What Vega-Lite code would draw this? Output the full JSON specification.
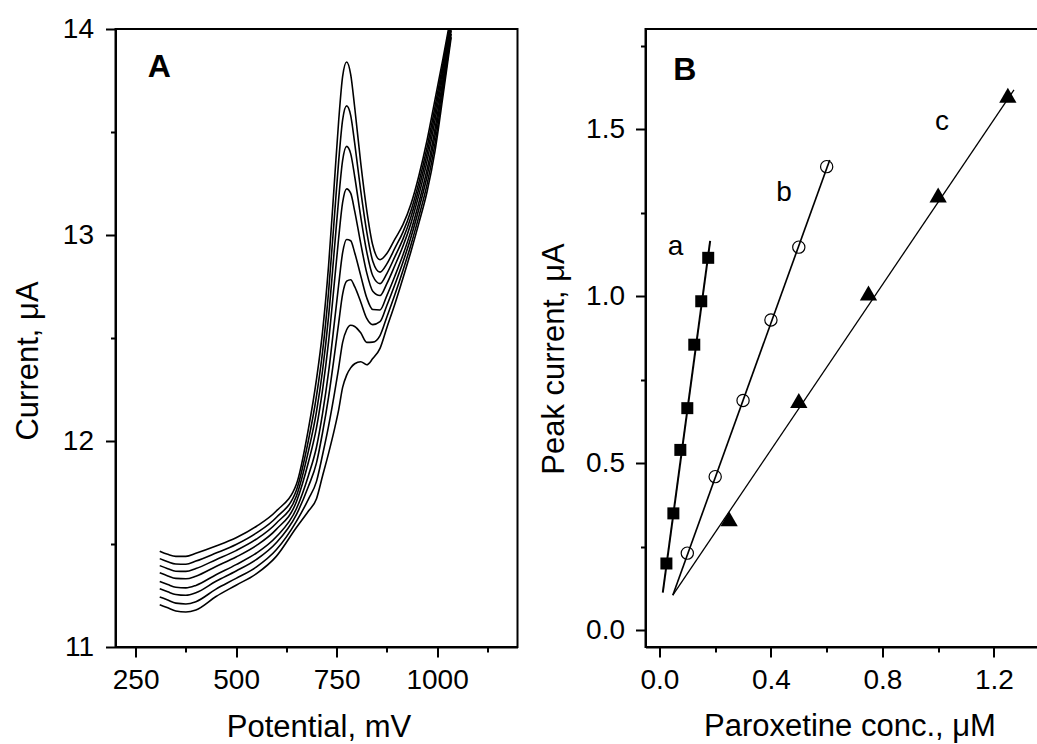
{
 "$schema": "https://vega.github.io/schema/vega-lite/v6.json",
 "padding": {"left": 11.5, "top": 14, "right": 0, "bottom": 0},
 "background": "white",
 "bounds": "flush",
 "spacing": 128,
 "config": {
  "font": "Liberation Sans",
  "view": {"stroke": "black", "strokeWidth": 2},
  "axis": {"grid": false, "domainColor": "black", "domainWidth": 2, "tickColor": "black", "tickWidth": 2, "labelColor": "black", "titleColor": "black", "labelFont": "Liberation Sans", "titleFont": "Liberation Sans", "labelFontSize": 28, "titleFontSize": 31, "titleFontWeight": "normal", "labelFlush": false, "labelOverlap": false, "labelBound": false}
 },
 "datasets": {
  "curves": [
{"c":1,"x":310,"y":11.465},{"c":2,"x":310,"y":11.429},{"c":3,"x":310,"y":11.395},{"c":4,"x":310,"y":11.36},{"c":5,"x":310,"y":11.318},{"c":6,"x":310,"y":11.283},{"c":7,"x":310,"y":11.243},{"c":8,"x":310,"y":11.205},
{"c":1,"x":330,"y":11.45},{"c":2,"x":330,"y":11.414},{"c":3,"x":330,"y":11.38},{"c":4,"x":330,"y":11.345},{"c":5,"x":330,"y":11.303},{"c":6,"x":330,"y":11.268},{"c":7,"x":330,"y":11.228},{"c":8,"x":330,"y":11.19},
{"c":1,"x":350,"y":11.44},{"c":2,"x":350,"y":11.403},{"c":3,"x":350,"y":11.368},{"c":4,"x":350,"y":11.333},{"c":5,"x":350,"y":11.29},{"c":6,"x":350,"y":11.255},{"c":7,"x":350,"y":11.213},{"c":8,"x":350,"y":11.175},
{"c":1,"x":375,"y":11.44},{"c":2,"x":375,"y":11.402},{"c":3,"x":375,"y":11.367},{"c":4,"x":375,"y":11.331},{"c":5,"x":375,"y":11.287},{"c":6,"x":375,"y":11.251},{"c":7,"x":375,"y":11.209},{"c":8,"x":375,"y":11.17},
{"c":1,"x":400,"y":11.455},{"c":2,"x":400,"y":11.417},{"c":3,"x":400,"y":11.381},{"c":4,"x":400,"y":11.344},{"c":5,"x":400,"y":11.299},{"c":6,"x":400,"y":11.263},{"c":7,"x":400,"y":11.22},{"c":8,"x":400,"y":11.18},
{"c":1,"x":450,"y":11.49},{"c":2,"x":450,"y":11.456},{"c":3,"x":450,"y":11.424},{"c":4,"x":450,"y":11.391},{"c":5,"x":450,"y":11.351},{"c":6,"x":450,"y":11.319},{"c":7,"x":450,"y":11.281},{"c":8,"x":450,"y":11.245},
{"c":1,"x":500,"y":11.53},{"c":2,"x":500,"y":11.498},{"c":3,"x":500,"y":11.468},{"c":4,"x":500,"y":11.437},{"c":5,"x":500,"y":11.4},{"c":6,"x":500,"y":11.369},{"c":7,"x":500,"y":11.333},{"c":8,"x":500,"y":11.3},
{"c":1,"x":550,"y":11.585},{"c":2,"x":550,"y":11.553},{"c":3,"x":550,"y":11.523},{"c":4,"x":550,"y":11.492},{"c":5,"x":550,"y":11.455},{"c":6,"x":550,"y":11.424},{"c":7,"x":550,"y":11.388},{"c":8,"x":550,"y":11.355},
{"c":1,"x":600,"y":11.66},{"c":2,"x":600,"y":11.629},{"c":3,"x":600,"y":11.601},{"c":4,"x":600,"y":11.571},{"c":5,"x":600,"y":11.535},{"c":6,"x":600,"y":11.506},{"c":7,"x":600,"y":11.472},{"c":8,"x":600,"y":11.44},
{"c":1,"x":650,"y":11.79},{"c":2,"x":650,"y":11.761},{"c":3,"x":650,"y":11.733},{"c":4,"x":650,"y":11.705},{"c":5,"x":650,"y":11.671},{"c":6,"x":650,"y":11.643},{"c":7,"x":650,"y":11.61},{"c":8,"x":650,"y":11.58},
{"c":1,"x":680,"y":12.06},{"c":2,"x":680,"y":12.004},{"c":3,"x":680,"y":11.952},{"c":4,"x":680,"y":11.898},{"c":5,"x":680,"y":11.833},{"c":6,"x":680,"y":11.78},{"c":7,"x":680,"y":11.718},{"c":8,"x":680,"y":11.66},
{"c":1,"x":700,"y":12.3},{"c":2,"x":700,"y":12.219},{"c":3,"x":700,"y":12.143},{"c":4,"x":700,"y":12.065},{"c":5,"x":700,"y":11.971},{"c":6,"x":700,"y":11.894},{"c":7,"x":700,"y":11.804},{"c":8,"x":700,"y":11.72},
{"c":1,"x":715,"y":12.53},{"c":2,"x":715,"y":12.432},{"c":3,"x":715,"y":12.341},{"c":4,"x":715,"y":12.247},{"c":5,"x":715,"y":12.133},{"c":6,"x":715,"y":12.04},{"c":7,"x":715,"y":11.932},{"c":8,"x":715,"y":11.83},
{"c":1,"x":730,"y":12.85},{"c":2,"x":730,"y":12.723},{"c":3,"x":730,"y":12.604},{"c":4,"x":730,"y":12.481},{"c":5,"x":730,"y":12.334},{"c":6,"x":730,"y":12.213},{"c":7,"x":730,"y":12.072},{"c":8,"x":730,"y":11.94},
{"c":1,"x":745,"y":13.27},{"c":2,"x":745,"y":13.101},{"c":3,"x":745,"y":12.943},{"c":4,"x":745,"y":12.78},{"c":5,"x":745,"y":12.584},{"c":6,"x":745,"y":12.423},{"c":7,"x":745,"y":12.235},{"c":8,"x":745,"y":12.06},
{"c":1,"x":755,"y":13.55},{"c":2,"x":755,"y":13.354},{"c":3,"x":755,"y":13.172},{"c":4,"x":755,"y":12.983},{"c":5,"x":755,"y":12.756},{"c":6,"x":755,"y":12.57},{"c":7,"x":755,"y":12.353},{"c":8,"x":755,"y":12.15},
{"c":1,"x":765,"y":13.77},{"c":2,"x":765,"y":13.559},{"c":3,"x":765,"y":13.362},{"c":4,"x":765,"y":13.158},{"c":5,"x":765,"y":12.914},{"c":6,"x":765,"y":12.713},{"c":7,"x":765,"y":12.479},{"c":8,"x":765,"y":12.26},
{"c":1,"x":775,"y":13.84},{"c":2,"x":775,"y":13.627},{"c":3,"x":775,"y":13.43},{"c":4,"x":775,"y":13.224},{"c":5,"x":775,"y":12.978},{"c":6,"x":775,"y":12.776},{"c":7,"x":775,"y":12.54},{"c":8,"x":775,"y":12.32},
{"c":1,"x":785,"y":13.78},{"c":2,"x":785,"y":13.581},{"c":3,"x":785,"y":13.395},{"c":4,"x":785,"y":13.203},{"c":5,"x":785,"y":12.972},{"c":6,"x":785,"y":12.783},{"c":7,"x":785,"y":12.562},{"c":8,"x":785,"y":12.355},
{"c":1,"x":795,"y":13.62},{"c":2,"x":795,"y":13.446},{"c":3,"x":795,"y":13.284},{"c":4,"x":795,"y":13.116},{"c":5,"x":795,"y":12.914},{"c":6,"x":795,"y":12.749},{"c":7,"x":795,"y":12.556},{"c":8,"x":795,"y":12.375},
{"c":1,"x":810,"y":13.35},{"c":2,"x":810,"y":13.215},{"c":3,"x":810,"y":13.089},{"c":4,"x":810,"y":12.959},{"c":5,"x":810,"y":12.803},{"c":6,"x":810,"y":12.675},{"c":7,"x":810,"y":12.525},{"c":8,"x":810,"y":12.385},
{"c":1,"x":825,"y":13.12},{"c":2,"x":825,"y":13.015},{"c":3,"x":825,"y":12.918},{"c":4,"x":825,"y":12.816},{"c":5,"x":825,"y":12.695},{"c":6,"x":825,"y":12.595},{"c":7,"x":825,"y":12.479},{"c":8,"x":825,"y":12.37},
{"c":1,"x":840,"y":12.95},{"c":2,"x":840,"y":12.873},{"c":3,"x":840,"y":12.802},{"c":4,"x":840,"y":12.727},{"c":5,"x":840,"y":12.638},{"c":6,"x":840,"y":12.565},{"c":7,"x":840,"y":12.48},{"c":8,"x":840,"y":12.4},
{"c":1,"x":858,"y":12.88},{"c":2,"x":858,"y":12.82},{"c":3,"x":858,"y":12.764},{"c":4,"x":858,"y":12.706},{"c":5,"x":858,"y":12.636},{"c":6,"x":858,"y":12.579},{"c":7,"x":858,"y":12.512},{"c":8,"x":858,"y":12.45},
{"c":1,"x":875,"y":12.91},{"c":2,"x":875,"y":12.86},{"c":3,"x":875,"y":12.813},{"c":4,"x":875,"y":12.764},{"c":5,"x":875,"y":12.706},{"c":6,"x":875,"y":12.658},{"c":7,"x":875,"y":12.602},{"c":8,"x":875,"y":12.55},
{"c":1,"x":895,"y":12.98},{"c":2,"x":895,"y":12.936},{"c":3,"x":895,"y":12.895},{"c":4,"x":895,"y":12.852},{"c":5,"x":895,"y":12.801},{"c":6,"x":895,"y":12.76},{"c":7,"x":895,"y":12.711},{"c":8,"x":895,"y":12.665},
{"c":1,"x":915,"y":13.05},{"c":2,"x":915,"y":13.014},{"c":3,"x":915,"y":12.98},{"c":4,"x":915,"y":12.945},{"c":5,"x":915,"y":12.903},{"c":6,"x":915,"y":12.868},{"c":7,"x":915,"y":12.828},{"c":8,"x":915,"y":12.79},
{"c":1,"x":935,"y":13.15},{"c":2,"x":935,"y":13.118},{"c":3,"x":935,"y":13.088},{"c":4,"x":935,"y":13.057},{"c":5,"x":935,"y":13.02},{"c":6,"x":935,"y":12.989},{"c":7,"x":935,"y":12.953},{"c":8,"x":935,"y":12.92},
{"c":1,"x":955,"y":13.29},{"c":2,"x":955,"y":13.258},{"c":3,"x":955,"y":13.228},{"c":4,"x":955,"y":13.197},{"c":5,"x":955,"y":13.16},{"c":6,"x":955,"y":13.129},{"c":7,"x":955,"y":13.093},{"c":8,"x":955,"y":13.06},
{"c":1,"x":975,"y":13.46},{"c":2,"x":975,"y":13.425},{"c":3,"x":975,"y":13.393},{"c":4,"x":975,"y":13.359},{"c":5,"x":975,"y":13.318},{"c":6,"x":975,"y":13.285},{"c":7,"x":975,"y":13.246},{"c":8,"x":975,"y":13.21},
{"c":1,"x":995,"y":13.66},{"c":2,"x":995,"y":13.625},{"c":3,"x":995,"y":13.593},{"c":4,"x":995,"y":13.559},{"c":5,"x":995,"y":13.518},{"c":6,"x":995,"y":13.485},{"c":7,"x":995,"y":13.446},{"c":8,"x":995,"y":13.41},
{"c":1,"x":1015,"y":13.86},{"c":2,"x":1015,"y":13.835},{"c":3,"x":1015,"y":13.811},{"c":4,"x":1015,"y":13.787},{"c":5,"x":1015,"y":13.758},{"c":6,"x":1015,"y":13.734},{"c":7,"x":1015,"y":13.706},{"c":8,"x":1015,"y":13.68},
{"c":1,"x":1035,"y":14.07},{"c":2,"x":1035,"y":14.055},{"c":3,"x":1035,"y":14.04},{"c":4,"x":1035,"y":14.025},{"c":5,"x":1035,"y":14.008},{"c":6,"x":1035,"y":13.993},{"c":7,"x":1035,"y":13.976},{"c":8,"x":1035,"y":13.96}
  ],
  "sq": [{"x":0.025,"y":0.2},{"x":0.05,"y":0.35},{"x":0.075,"y":0.54},{"x":0.1,"y":0.665},{"x":0.125,"y":0.855},{"x":0.15,"y":0.985},{"x":0.175,"y":1.115}],
  "ci": [{"x":0.1,"y":0.231},{"x":0.2,"y":0.46},{"x":0.3,"y":0.688},{"x":0.4,"y":0.929},{"x":0.5,"y":1.147},{"x":0.6,"y":1.388}],
  "tr": [{"x":0.25,"y":0.334},{"x":0.5,"y":0.688},{"x":0.75,"y":1.01},{"x":1.0,"y":1.303},{"x":1.25,"y":1.602}],
  "fits": [{"s":"a","x":0.012,"y":0.113},{"s":"a","x":0.182,"y":1.166},{"s":"b","x":0.048,"y":0.105},{"s":"b","x":0.611,"y":1.408},{"s":"c","x":0.048,"y":0.105},{"s":"c","x":1.272,"y":1.618}],
  "labs": [{"x":0.0575,"y":1.123,"t":"a"},{"x":0.447,"y":1.286,"t":"b"},{"x":1.014,"y":1.499,"t":"c"}]
 },
 "hconcat": [
  {
   "width": 402, "height": 618,
   "layer": [
    {
     "data": {"name": "curves"},
     "mark": {"type": "line", "color": "black", "strokeWidth": 1.6, "interpolate": "monotone", "clip": true},
     "encoding": {
      "x": {"field": "x", "type": "quantitative", "scale": {"domain": [200, 1200], "nice": false, "zero": false},
       "axis": {"title": "Potential, mV", "values": [250, 375, 500, 625, 750, 875, 1000, 1125], "labelExpr": "datum.value % 250 === 0 ? format(datum.value, 'd') : ''", "tickSize": {"condition": {"test": "datum.value % 250 === 0", "value": 10}, "value": 5}, "labelPadding": 9.5, "titleX": 203, "titleY": 89, "titleBaseline": "alphabetic"}},
      "y": {"field": "y", "type": "quantitative", "scale": {"domain": [11, 14], "nice": false, "zero": false},
       "axis": {"title": "Current, μA", "values": [11, 11.5, 12, 12.5, 13, 13.5, 14], "labelExpr": "datum.value % 1 === 0 ? format(datum.value, 'd') : ''", "tickSize": {"condition": {"test": "datum.value % 1 === 0", "value": 10}, "value": 5}, "labelPadding": 12, "titleX": -78, "titleY": 331.5, "titleBaseline": "alphabetic"}},
      "detail": {"field": "c", "type": "nominal"}
     }
    },
    {
     "data": {"values": [{"x": 280.3, "y": 13.766, "t": "A"}]},
     "mark": {"type": "text", "align": "left", "baseline": "alphabetic", "fontSize": 32, "fontWeight": "bold", "font": "Liberation Sans", "color": "black"},
     "encoding": {"x": {"field": "x", "type": "quantitative"}, "y": {"field": "y", "type": "quantitative"}, "text": {"field": "t"}}
    }
   ]
  },
  {
   "width": 393, "height": 618,
   "layer": [
    {
     "data": {"name": "fits"},
     "mark": {"type": "line", "color": "black"},
     "encoding": {
      "x": {"field": "x", "type": "quantitative", "scale": {"domain": [-0.05, 1.36], "nice": false, "zero": false},
       "axis": {"title": "Paroxetine conc., μM", "values": [0, 0.2, 0.4, 0.6, 0.8, 1, 1.2], "labelExpr": "indexof([0, 0.4, 0.8, 1.2], datum.value) >= 0 ? format(datum.value, '.1f') : ''", "tickSize": {"condition": {"test": "indexof([0, 0.4, 0.8, 1.2], datum.value) >= 0", "value": 10}, "value": 5}, "labelPadding": 9.5, "titleX": 204, "titleY": 88.5, "titleBaseline": "alphabetic"}},
      "y": {"field": "y", "type": "quantitative", "scale": {"domain": [-0.05, 1.8], "nice": false, "zero": false},
       "axis": {"title": "Peak current, μA", "values": [0, 0.25, 0.5, 0.75, 1, 1.25, 1.5, 1.75], "labelExpr": "indexof([0, 0.5, 1, 1.5], datum.value) >= 0 ? format(datum.value, '.1f') : ''", "tickSize": {"condition": {"test": "indexof([0, 0.5, 1, 1.5], datum.value) >= 0", "value": 10}, "value": 5}, "labelPadding": 11, "titleX": -82, "titleY": 329.5, "titleBaseline": "alphabetic"}},
      "detail": {"field": "s", "type": "nominal"},
      "strokeWidth": {"field": "s", "type": "nominal", "scale": {"domain": ["a", "b", "c"], "range": [2, 1.3, 1.3]}, "legend": null}
     }
    },
    {
     "data": {"name": "sq"},
     "mark": {"type": "point", "shape": "square", "filled": true, "color": "black", "size": 144, "opacity": 1},
     "encoding": {"x": {"field": "x", "type": "quantitative"}, "y": {"field": "y", "type": "quantitative"}}
    },
    {
     "data": {"name": "ci"},
     "mark": {"type": "point", "shape": "circle", "filled": false, "color": "black", "size": 150, "strokeWidth": 1.2, "opacity": 1},
     "encoding": {"x": {"field": "x", "type": "quantitative"}, "y": {"field": "y", "type": "quantitative"}}
    },
    {
     "data": {"name": "tr"},
     "mark": {"type": "point", "shape": "triangle-up", "filled": true, "color": "black", "size": 300, "opacity": 1},
     "encoding": {"x": {"field": "x", "type": "quantitative"}, "y": {"field": "y", "type": "quantitative"}}
    },
    {
     "data": {"name": "labs"},
     "mark": {"type": "text", "align": "center", "baseline": "alphabetic", "fontSize": 28, "font": "Liberation Sans", "color": "black"},
     "encoding": {"x": {"field": "x", "type": "quantitative"}, "y": {"field": "y", "type": "quantitative"}, "text": {"field": "t"}}
    },
    {
     "data": {"values": [{"x": 0.05, "y": 1.647, "t": "B"}]},
     "mark": {"type": "text", "align": "left", "baseline": "alphabetic", "fontSize": 32, "fontWeight": "bold", "font": "Liberation Sans", "color": "black"},
     "encoding": {"x": {"field": "x", "type": "quantitative"}, "y": {"field": "y", "type": "quantitative"}, "text": {"field": "t"}}
    }
   ]
  }
 ]
}
